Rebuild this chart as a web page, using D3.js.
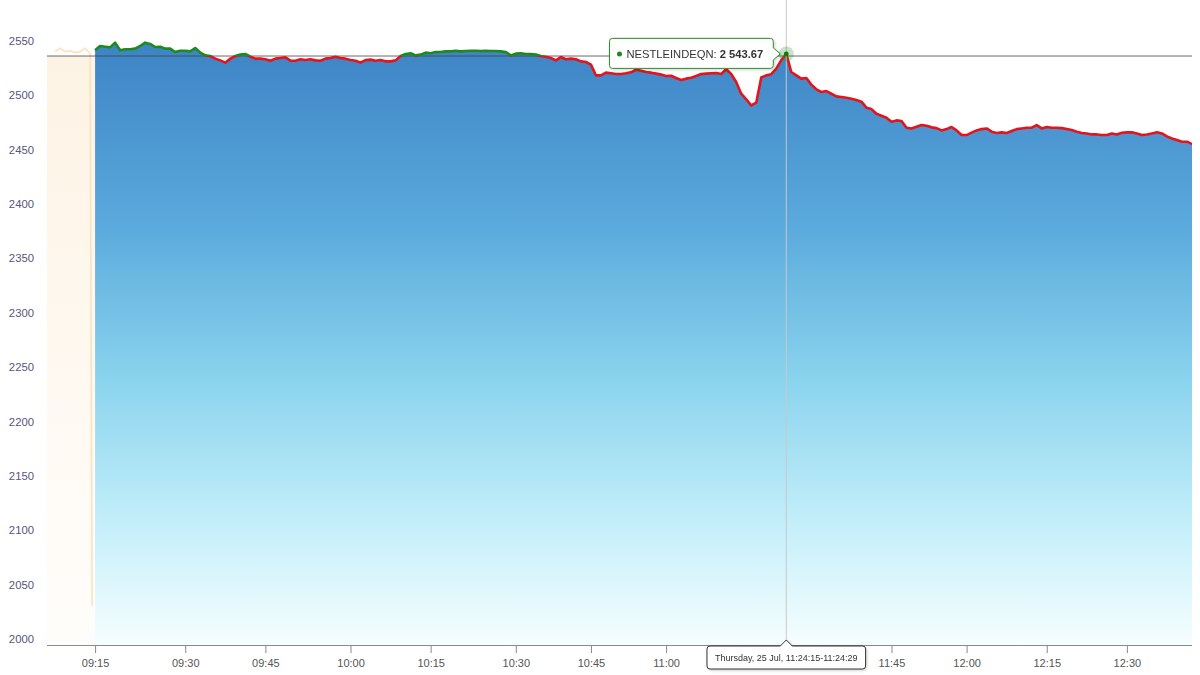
<!DOCTYPE html>
<html>
<head>
<meta charset="utf-8">
<script src="https://cdn.jsdelivr.net/npm/d3@7"></script>
<style>
  body { margin: 0; background: #fff; }
  svg { display: block; font-family: "Liberation Sans", Arial, sans-serif; }
</style>
</head>
<body>
<div id="chart-container"></div>
<script>
// quotes, one per ordinal slot (axis is ordinal, like highstock)
const prices = [
  2547.0, 2550.9, 2550.3, 2549.7, 2554.0, 2547.0, 2547.9, 2547.9, 2548.5, 2550.9,
  2554.0, 2552.8, 2550.0, 2550.3, 2548.5, 2548.5, 2545.4, 2546.6, 2546.6, 2546.0,
  2549.1, 2544.8, 2542.3, 2541.7, 2539.3, 2537.7, 2535.6, 2539.3, 2541.7, 2543.0,
  2543.6, 2541.1, 2539.3, 2539.3, 2538.7, 2537.4, 2539.3, 2539.9, 2540.5, 2537.4,
  2537.4, 2538.7, 2538.0, 2538.7, 2537.7, 2537.4, 2539.3, 2539.9, 2541.1, 2539.9,
  2539.3, 2538.0, 2537.4, 2535.6, 2538.0, 2538.4, 2537.4, 2538.0, 2536.8, 2536.8,
  2537.7, 2541.7, 2543.6, 2544.2, 2542.3, 2543.0, 2544.8, 2544.2, 2545.4, 2545.4,
  2546.0, 2546.0, 2546.6, 2546.0, 2546.3, 2546.6, 2546.6, 2546.3, 2546.6, 2546.3,
  2546.3, 2546.0, 2545.4, 2542.3, 2543.9, 2544.2, 2543.6, 2543.6, 2543.0, 2541.7,
  2541.1, 2539.9, 2537.7, 2540.8, 2538.7, 2539.3, 2538.7, 2536.8, 2536.2, 2533.8,
  2523.9, 2523.9, 2526.4, 2525.8, 2525.2, 2525.2, 2525.8, 2526.7, 2529.2, 2528.2,
  2527.0, 2526.4, 2525.5, 2524.6, 2523.3, 2523.6, 2521.5, 2519.6, 2520.9, 2521.8,
  2523.3, 2525.2, 2525.5, 2525.8, 2526.1, 2525.2, 2529.5, 2525.2, 2517.8, 2507.1,
  2501.9, 2496.3, 2498.8, 2522.0, 2523.9, 2525.0, 2530.1, 2538.0, 2543.67, 2527.0,
  2523.9, 2520.9, 2521.5, 2515.4, 2511.1, 2508.6, 2509.5, 2507.0, 2504.6, 2504.0,
  2503.3, 2502.4, 2501.2, 2499.7, 2494.2, 2492.9, 2488.6, 2486.8, 2485.0, 2481.3,
  2482.5, 2481.9, 2475.8, 2475.1, 2476.7, 2478.2, 2477.6, 2476.1, 2475.4, 2473.3,
  2474.5, 2476.4, 2473.3, 2469.0, 2469.0, 2471.2, 2473.3, 2474.5, 2475.1, 2472.1,
  2470.9, 2471.5, 2470.9, 2472.7, 2474.5, 2475.1, 2475.8, 2475.8, 2478.2, 2475.1,
  2476.4, 2475.8, 2475.8, 2475.4, 2474.5, 2473.6, 2472.1, 2470.9, 2470.5, 2469.6,
  2469.6, 2469.0, 2469.0, 2470.5, 2469.6, 2471.2, 2471.5, 2471.5, 2470.5, 2469.0,
  2469.6, 2470.5, 2471.5, 2470.5, 2467.8, 2465.9, 2464.4, 2462.9, 2462.9, 2460.7
];

// pre-open session, and its last print
const preOpen = [2545.7, 2548.8, 2545.7, 2546.6, 2544.8, 2545.7, 2548.8, 2544.2];
const preOpenLast = 2036;

const prevClose = 2541.7;

const tickLabels = ['09:15', '09:30', '09:45', '10:00', '10:15', '10:30', '10:45',
  '11:00', '11:15', '11:30', '11:45', '12:00', '12:15', '12:30'];
const tickIndex = [0, 18, 34, 51, 67, 84, 99, 114, 129, 144, 159, 174, 190, 206];
const yTicks = [2000, 2050, 2100, 2150, 2200, 2250, 2300, 2350, 2400, 2450, 2500, 2550];

const seriesName = 'NESTLEINDEQN';
const hoverIndex = 138;
const hoverLabel = 'Thursday, 25 Jul, 11:24:15-11:24:29';

const width = 1200, height = 675;
const margin = { left: 47, right: 8, top: 0, bottom: 30 };
const plotBottom = height - margin.bottom;

const svg = d3.select('#chart-container')
  .append('svg')
  .attr('width', width)
  .attr('height', height);

// X Scale (ordinal slots)
const xScale = d3.scaleLinear()
  .domain([-(preOpen.length + 1.6), prices.length - 1])
  .range([margin.left, width - margin.right]);

// Y Scale
const yScale = d3.scaleLinear()
  .domain([2000, 2550])
  .range([plotBottom, 47]);

const defs = svg.append('defs');

const blue = defs.append('linearGradient')
  .attr('id', 'blueFill')
  .attr('gradientUnits', 'userSpaceOnUse')
  .attr('x1', 0).attr('x2', 0)
  .attr('y1', yScale(2555)).attr('y2', yScale(2000));
[[0, '#3d83c5'], [0.3, '#5aa9dc'], [0.55, '#88d2ed'], [0.8, '#c4effa'], [1, '#f6feff']]
  .forEach(s => blue.append('stop').attr('offset', s[0]).attr('stop-color', s[1]));

const orange = defs.append('linearGradient')
  .attr('id', 'orangeFill')
  .attr('x1', 0).attr('x2', 0).attr('y1', 0).attr('y2', 1);
orange.append('stop').attr('offset', 0).attr('stop-color', '#fdf3e4');
orange.append('stop').attr('offset', 1).attr('stop-color', '#fffdfb');

defs.append('clipPath').attr('id', 'clipAbove')
  .append('rect')
  .attr('x', margin.left).attr('y', 0)
  .attr('width', width - margin.left - margin.right)
  .attr('height', yScale(prevClose));
defs.append('clipPath').attr('id', 'clipBelow')
  .append('rect')
  .attr('x', margin.left).attr('y', yScale(prevClose))
  .attr('width', width - margin.left - margin.right)
  .attr('height', plotBottom - yScale(prevClose));

// pre-open band
svg.append('rect')
  .attr('x', xScale.range()[0])
  .attr('y', yScale(prevClose))
  .attr('width', xScale(0) - xScale.range()[0])
  .attr('height', yScale(2000) - yScale(prevClose))
  .attr('fill', 'url(#orangeFill)');

// pre-open line, last print drops straight down
const preIdx = i => i < preOpen.length ? i - preOpen.length : -0.6;
svg.append('path')
  .datum(preOpen.concat([preOpenLast]))
  .attr('d', d3.line()
    .x((d, i) => xScale(preIdx(i)))
    .y(d => yScale(d)))
  .attr('fill', 'none')
  .attr('stroke', '#fbe2bd')
  .attr('stroke-width', 1.6);

// main area
const area = d3.area()
  .x((d, i) => xScale(i))
  .y0(yScale(2000))
  .y1(d => yScale(d));
svg.append('path')
  .datum(prices)
  .attr('d', area)
  .attr('fill', 'url(#blueFill)');

// previous close line
svg.append('line')
  .attr('x1', margin.left).attr('x2', width - margin.right)
  .attr('y1', yScale(prevClose)).attr('y2', yScale(prevClose))
  .attr('stroke', '#444')
  .attr('stroke-width', 0.8);

// price line, green above prev close, red below
const line = d3.line()
  .x((d, i) => xScale(i))
  .y(d => yScale(d));
svg.append('path')
  .datum(prices)
  .attr('d', line)
  .attr('clip-path', 'url(#clipAbove)')
  .attr('fill', 'none')
  .attr('stroke', '#1e8a1e')
  .attr('stroke-width', 2.6)
  .attr('stroke-linejoin', 'round');
svg.append('path')
  .datum(prices)
  .attr('d', line)
  .attr('clip-path', 'url(#clipBelow)')
  .attr('fill', 'none')
  .attr('stroke', '#e3141c')
  .attr('stroke-width', 2.6)
  .attr('stroke-linejoin', 'round');

// Y Axis labels
svg.append('g')
  .selectAll('text')
  .data(yTicks)
  .enter()
  .append('text')
  .attr('x', 34)
  .attr('y', d => yScale(d) - 2)
  .attr('text-anchor', 'end')
  .attr('font-size', '11.3px')
  .attr('fill', '#55557f')
  .text(d => d);

const hx = xScale(hoverIndex), hy = yScale(prices[hoverIndex]);

// X Axis
const xAxis = svg.append('g')
  .attr('transform', 'translate(0,' + plotBottom + ')')
  .call(d3.axisBottom(xScale)
    .tickValues(tickIndex)
    .tickFormat((d, i) => tickLabels[i])
    .tickSize(8)
    .tickPadding(6));
xAxis.select('.domain')
  .attr('d', 'M' + margin.left + ',0.5H' + (width - margin.right))
  .attr('stroke', '#8a8a8a');
xAxis.selectAll('.tick line').attr('stroke', '#8a8a8a');
xAxis.selectAll('.tick text')
  .attr('fill', '#555')
  .attr('font-size', '11px')
  .attr('font-family', '"Liberation Sans", Arial, sans-serif');

// crosshair
svg.append('line')
  .attr('x1', hx).attr('x2', hx)
  .attr('y1', margin.top).attr('y2', plotBottom)
  .attr('stroke', '#c8c8c8')
  .attr('stroke-width', 1);

// hover marker
svg.append('circle')
  .attr('cx', hx).attr('cy', hy).attr('r', 7.5)
  .attr('fill', 'rgba(30,138,30,0.25)');
svg.append('circle')
  .attr('cx', hx).attr('cy', hy).attr('r', 2.4)
  .attr('fill', '#0d7a0d');

// series tooltip
const fmt = d3.formatLocale({ decimal: '.', thousands: ' ', grouping: [3], currency: ['', ''] }).format(',.2f');
const tip = svg.append('g')
  .attr('style', 'filter: drop-shadow(1px 1px 1.5px rgba(0,0,0,0.18))');
const tipPath = tip.append('path');
const tipText = tip.append('text')
  .attr('font-size', '11.2px')
  .attr('fill', '#333');
tipText.append('tspan').text(seriesName + ': ');
tipText.append('tspan').attr('font-weight', 'bold').text(fmt(prices[hoverIndex]));
const tw = tipText.node().getComputedTextLength();
const boxW = tw + 27, boxH = 30;
const bx1 = hx - 13, bx0 = bx1 - boxW, by0 = hy - boxH / 2 - 0.5, by1 = by0 + boxH;
tipText.attr('x', bx0 + 17).attr('y', hy + 4);
tip.append('circle')
  .attr('cx', bx0 + 10).attr('cy', hy).attr('r', 2.5)
  .attr('fill', '#1e8a1e');
tipPath
  .attr('d', 'M' + (bx0 + 3) + ',' + by0 + 'H' + (bx1 - 3) + 'Q' + bx1 + ',' + by0 + ' ' + bx1 + ',' + (by0 + 3) +
    'V' + (hy - 6) + 'L' + (bx1 + 7) + ',' + hy + 'L' + bx1 + ',' + (hy + 6) +
    'V' + (by1 - 3) + 'Q' + bx1 + ',' + by1 + ' ' + (bx1 - 3) + ',' + by1 +
    'H' + (bx0 + 3) + 'Q' + bx0 + ',' + by1 + ' ' + bx0 + ',' + (by1 - 3) +
    'V' + (by0 + 3) + 'Q' + bx0 + ',' + by0 + ' ' + (bx0 + 3) + ',' + by0 + 'Z')
  .attr('fill', '#fff')
  .attr('stroke', '#2e8b2e')
  .attr('stroke-width', 1);

// x crosshair label
const lab = svg.append('g')
  .attr('style', 'filter: drop-shadow(1px 1px 1.5px rgba(0,0,0,0.2))');
const labPath = lab.append('path');
const labText = lab.append('text')
  .attr('font-size', '9px')
  .attr('fill', '#333')
  .attr('text-anchor', 'middle')
  .text(hoverLabel);
const lw = labText.node().getComputedTextLength() + 16;
const ly0 = plotBottom + 1, ly1 = ly0 + 23, lx0 = hx - lw / 2, lx1 = hx + lw / 2;
labText.attr('x', hx).attr('y', ly0 + 15);
labPath
  .attr('d', 'M' + (lx0 + 3) + ',' + ly0 + 'H' + (hx - 6) + 'L' + hx + ',' + (ly0 - 6) + 'L' + (hx + 6) + ',' + ly0 +
    'H' + (lx1 - 3) + 'Q' + lx1 + ',' + ly0 + ' ' + lx1 + ',' + (ly0 + 3) +
    'V' + (ly1 - 3) + 'Q' + lx1 + ',' + ly1 + ' ' + (lx1 - 3) + ',' + ly1 +
    'H' + (lx0 + 3) + 'Q' + lx0 + ',' + ly1 + ' ' + lx0 + ',' + (ly1 - 3) +
    'V' + (ly0 + 3) + 'Q' + lx0 + ',' + ly0 + ' ' + (lx0 + 3) + ',' + ly0 + 'Z')
  .attr('fill', '#fff')
  .attr('stroke', '#333')
  .attr('stroke-width', 1);

// tick labels covered by the crosshair label are hidden, as in the original
xAxis.selectAll('.tick')
  .filter(d => xScale(d) + 16 > lx0 && xScale(d) - 16 < lx1)
  .select('text')
  .remove();
</script>
</body>
</html>
